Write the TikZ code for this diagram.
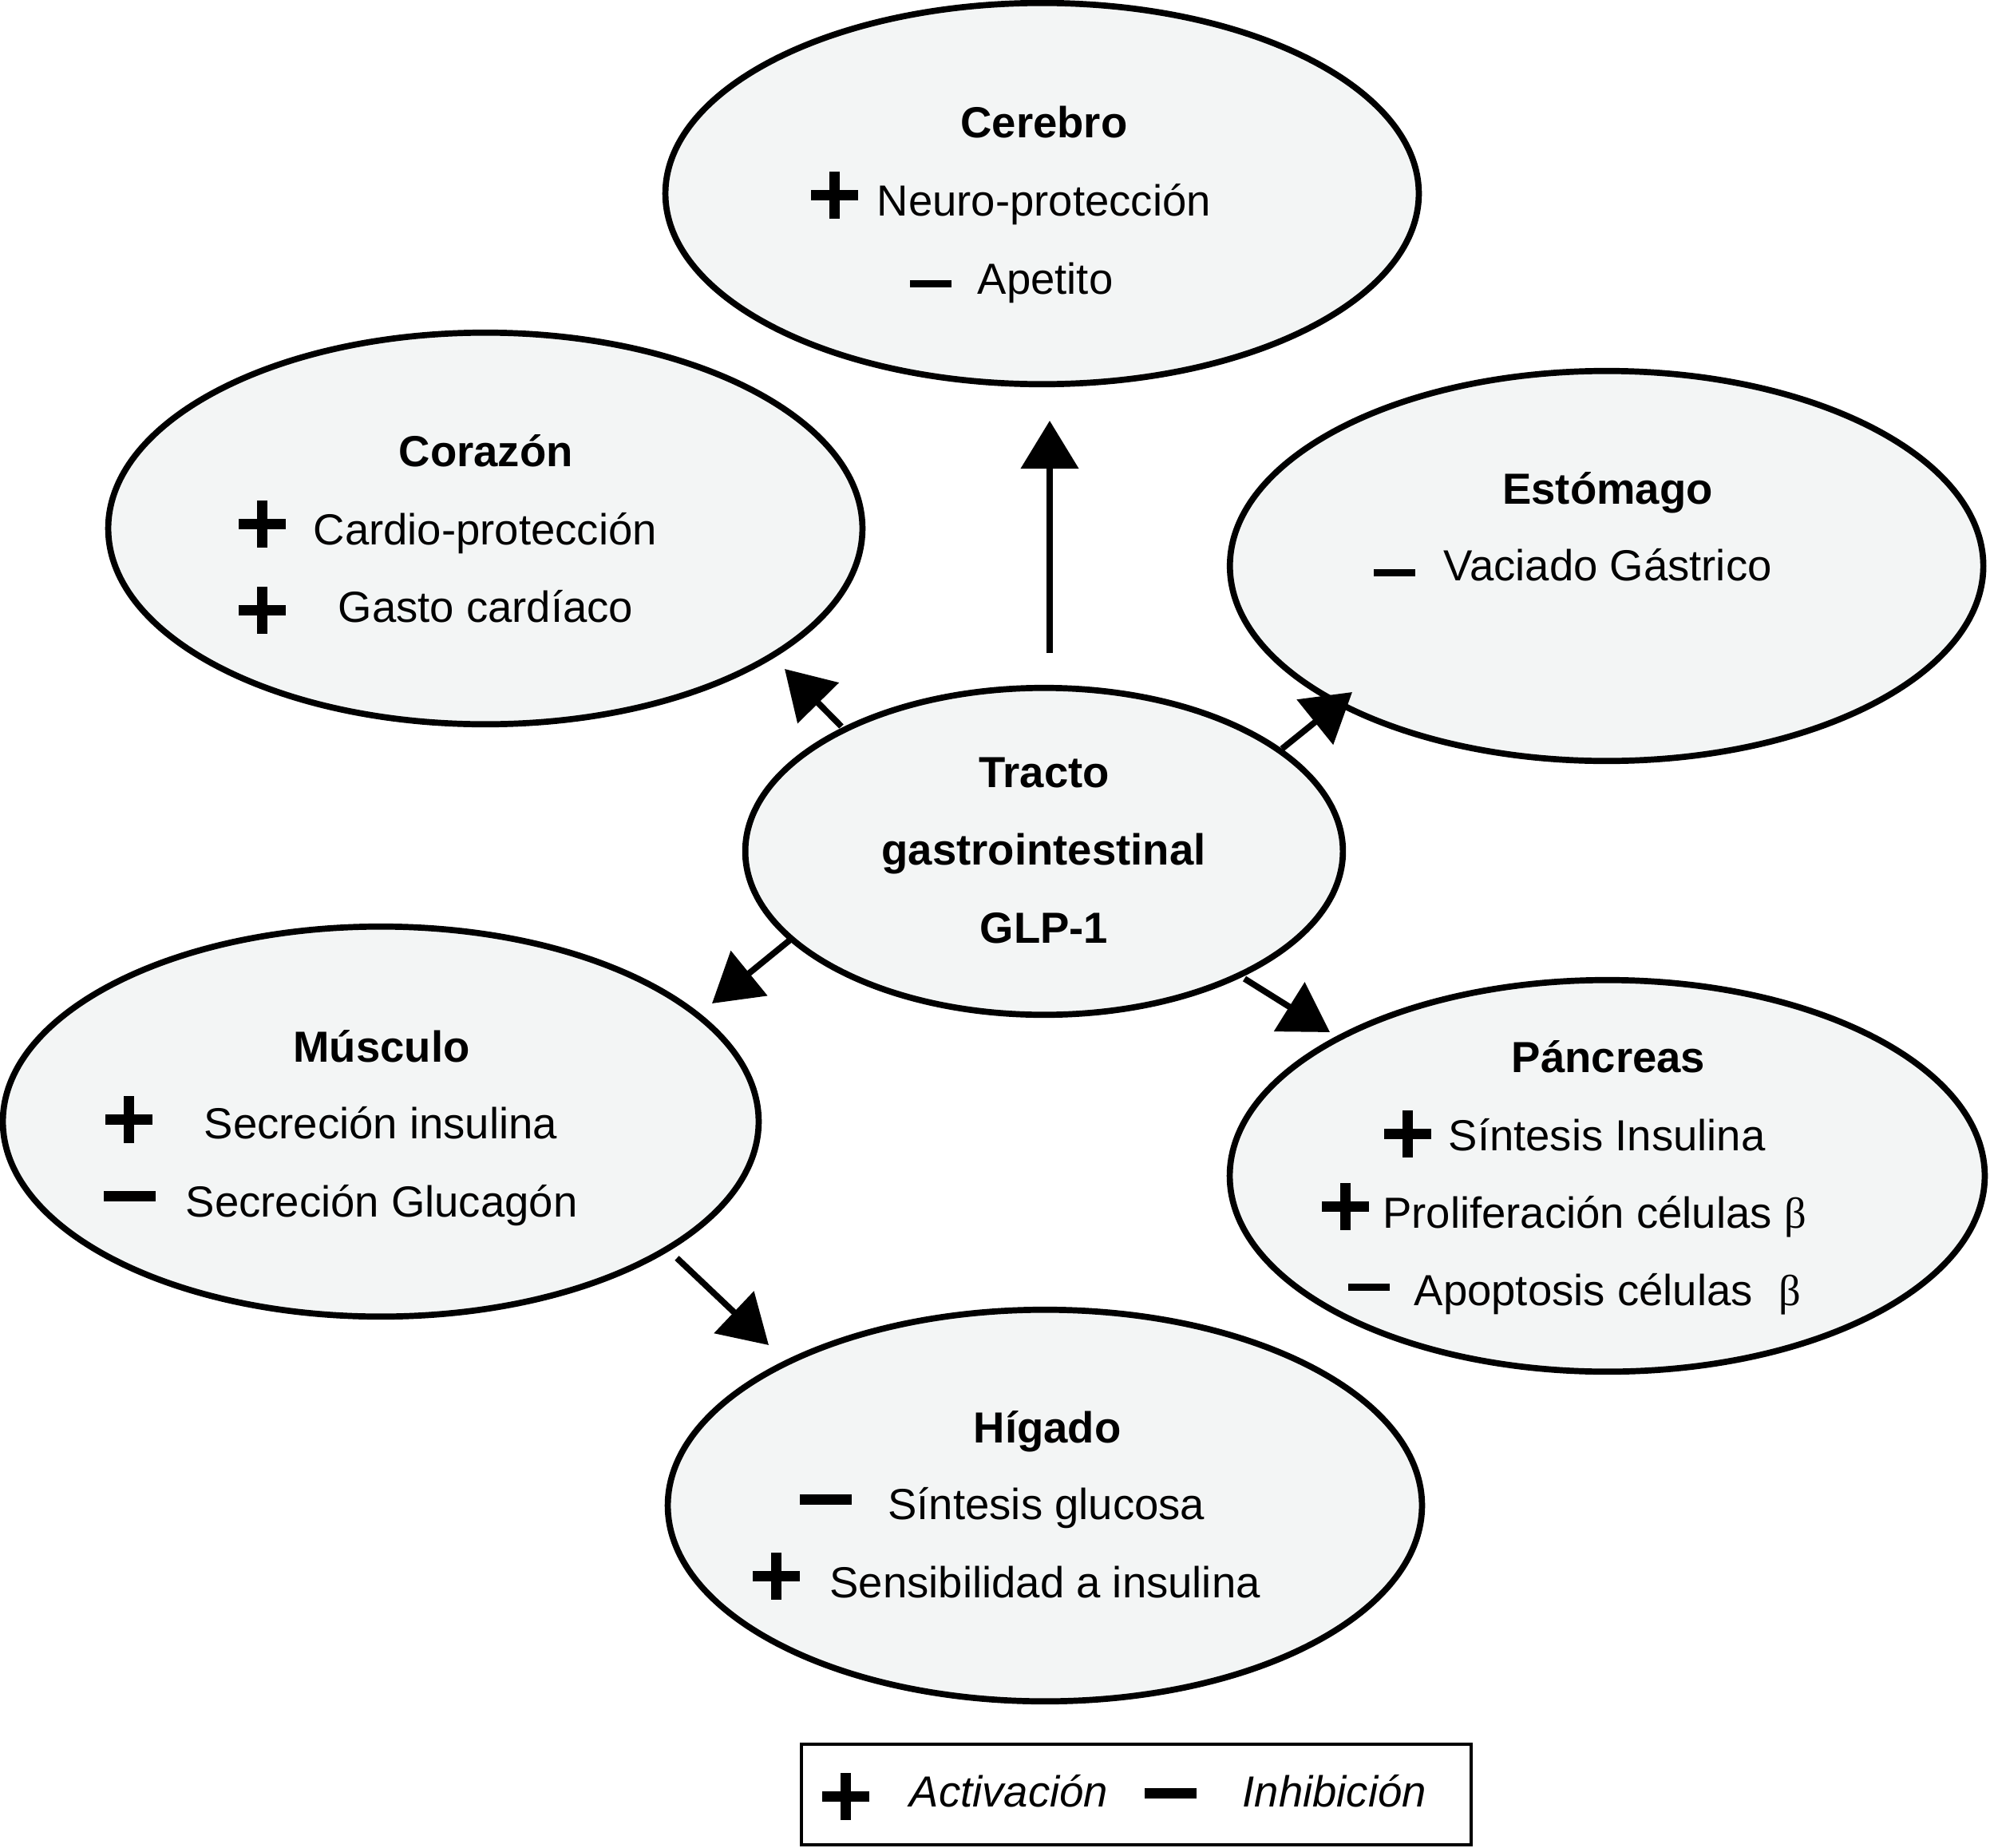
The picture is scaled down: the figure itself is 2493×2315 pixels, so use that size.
\documentclass[tikz,border=0pt]{standalone}
\usepackage{fontspec}
\setmainfont{Liberation Sans}
\newfontfamily\grk{Liberation Serif}
\usetikzlibrary{shapes.geometric,arrows.meta}
\definecolor{organfill}{RGB}{243,245,245}
\tikzset{
  organ/.style={ellipse, draw=black, line width=0.077cm, fill=organfill, inner sep=0pt, outer sep=0pt},
  lbl/.style={inner sep=0pt, anchor=base west, font=\fontsize{15.5}{18}\selectfont},
  ttl/.style={inner sep=0pt, anchor=base, font=\fontsize{15.5}{18}\selectfont\bfseries},
  leglbl/.style={inner sep=0pt, anchor=base west, font=\fontsize{15.5}{18}\selectfont\itshape},
  arr/.style={line width=0.077cm, -{Triangle[length=0.6cm,width=0.71cm]}},
  pluspic/.pic={\fill (-29.5,-6.5) rectangle (29.5,6.5); \fill (-6.5,-29.5) rectangle (6.5,29.5);},
  thinminus/.pic={\fill (-26,-4.5) rectangle (26,4.5);},
  thickminus/.pic={\fill (-32.5,-6.5) rectangle (32.5,6.5);}
}
\begin{document}
\begin{tikzpicture}[x=0.01cm,y=-0.01cm]
\useasboundingbox (0,0) rectangle (2493,2315);

% organ ellipses
\node[organ, minimum width=9.433cm, minimum height=4.773cm] (cer) at (1305.5,242.5) {};
\node[organ, minimum width=9.443cm, minimum height=4.903cm] (cor) at (608,662) {};
\node[organ, minimum width=9.433cm, minimum height=4.883cm] (est) at (2012.7,709) {};
\node[organ, minimum width=7.483cm, minimum height=4.093cm] (tr) at (1308,1066.5) {};
\node[organ, minimum width=9.463cm, minimum height=4.883cm] (mus) at (477,1405) {};
\node[organ, minimum width=9.453cm, minimum height=4.903cm] (pan) at (2013.5,1473) {};
\node[organ, minimum width=9.443cm, minimum height=4.903cm] (hig) at (1309,1886) {};

% arrow ends
\coordinate (aCerS) at (1315,818);
\coordinate (aCerE) at (1315,527);
\coordinate (aCorS) at (1054,910);
\coordinate (aCorE) at (983,838);
\coordinate (aEstS) at (1606,938);
\coordinate (aEstE) at (1694,867);
\coordinate (aMusS) at (989,1178);
\coordinate (aMusE) at (892,1257);
\coordinate (aPanS) at (1559,1226);
\coordinate (aPanE) at (1666,1293);
\coordinate (aHigS) at (848,1576);
\coordinate (aHigE) at (963,1685);
\draw[arr] (aCerS) -- (aCerE);
\draw[arr] (aCorS) -- (aCorE);
\draw[arr] (aEstS) -- (aEstE);
\draw[arr] (aMusS) -- (aMusE);
\draw[arr] (aPanS) -- (aPanE);
\draw[arr] (aHigS) -- (aHigE);

% Cerebro
\node[ttl] (cerT) at (1308,172.7) {Cerebro};
\pic at (1045,244.5) {pluspic};
\node[lbl] (cer1) at (1098,270.7) {Neuro-protección};
\pic at (1165.5,355.3) {thinminus};
\node[lbl] (cer2) at (1224,368) {Apetito};

% Corazon
\node[ttl] (corT) at (608.7,584) {Corazón};
\pic at (328.5,656) {pluspic};
\node[lbl] (cor1) at (392,682.7) {Cardio-protección};
\pic at (328.5,764) {pluspic};
\node[lbl] (cor2) at (423,779.3) {Gasto cardíaco};

% Estomago
\node[ttl] (estT) at (2014,631) {Estómago};
\pic at (1747,717.2) {thinminus};
\node[lbl] (est1) at (1808,727.7) {Vaciado Gástrico};

% Tracto
\node[ttl] (tr1) at (1308,986.7) {Tracto};
\node[ttl] (tr2) at (1307.6,1083) {gastrointestinal};
\node[ttl] (tr3) at (1308,1181.7) {GLP-1};

% Musculo
\node[ttl] (musT) at (478,1330) {Músculo};
\pic at (161.5,1402) {pluspic};
\node[lbl] (mus1) at (255,1426.7) {Secreción insulina};
\pic at (162,1498.3) {thickminus};
\node[lbl] (mus2) at (232,1524) {Secreción Glucagón};

% Pancreas
\node[ttl] (panT) at (2015,1343) {Páncreas};
\pic at (1763.5,1420.3) {pluspic};
\node[lbl] (pan1) at (1814,1441.7) {Síntesis Insulina};
\pic at (1685.75,1511.2) {pluspic};
\node[lbl] (pan2) at (1731.5,1538) {Proliferación células {\grk β}};
\pic at (1715.3,1612.5) {thinminus};
\node[lbl] (pan3) at (1771,1635) {Apoptosis células\hspace{0.6em}{\grk β}};

% Higado
\node[ttl] (higT) at (1312,1807.3) {Hígado};
\pic at (1034.5,1878.3) {thickminus};
\node[lbl] (hig1) at (1111.7,1903.3) {Síntesis glucosa};
\pic at (972.5,1974.5) {pluspic};
\node[lbl] (hig2) at (1038.8,2001) {Sensibilidad a insulina};

% Legend
\node[draw=black, line width=0.04cm, minimum width=8.39cm, minimum height=1.266cm, inner sep=0pt] (leg) at (1423.5,2248) {};
\pic at (1059.5,2250) {pluspic};
\node[leglbl] (legA) at (1139,2263.3) {Activación};
\pic at (1466.5,2246) {thickminus};
\node[leglbl] (legI) at (1556,2263.3) {Inhibición};
\end{tikzpicture}
\end{document}
